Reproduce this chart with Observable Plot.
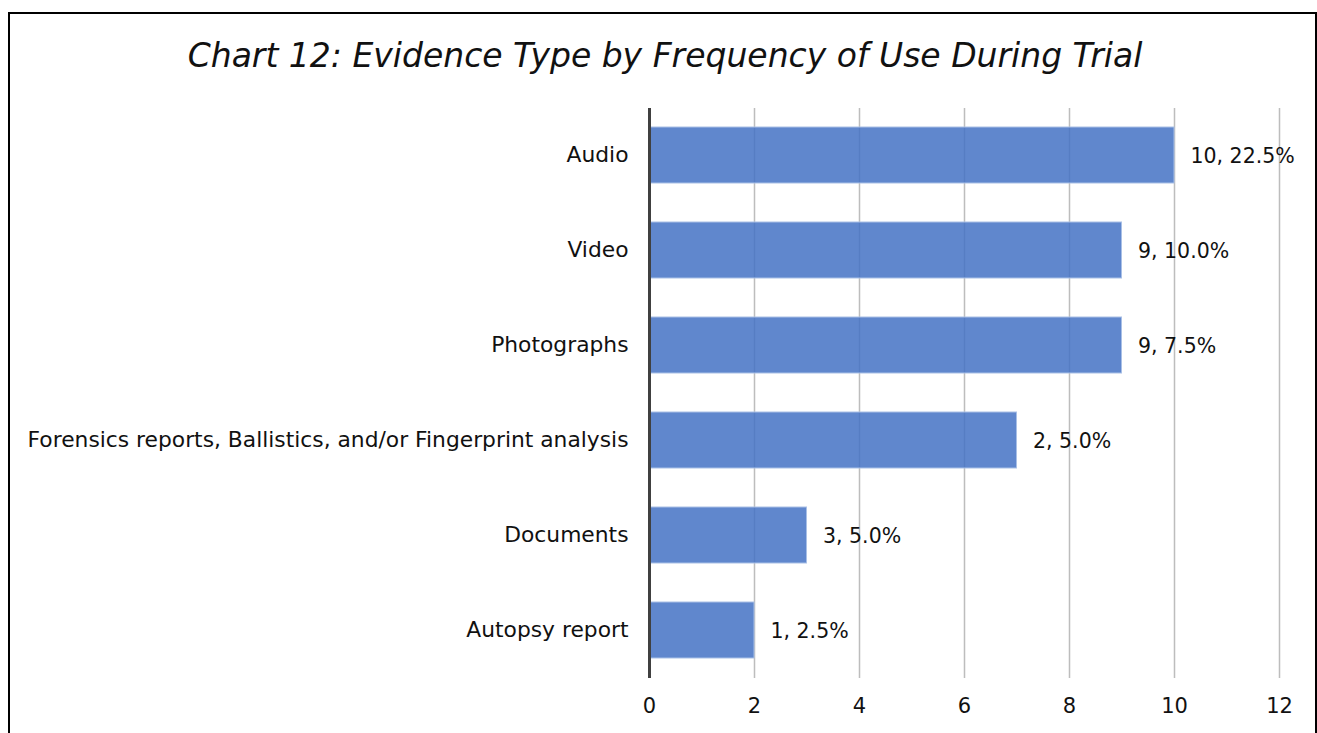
<!DOCTYPE html>
<html>
<head>
<meta charset="utf-8">
<script src="https://cdn.jsdelivr.net/npm/d3@7"></script>
<script src="https://cdn.jsdelivr.net/npm/@observablehq/plot@0.6"></script>
<style>
  html, body { margin: 0; padding: 0; background: #fff; }
  #wrap { position: relative; width: 1317px; height: 733px; overflow: hidden; font-family: "DejaVu Sans", sans-serif; }
  #frame { position: absolute; left: 8px; top: 12px; width: 1309px; height: 760px; border: 2px solid #000; box-sizing: border-box; }
  #title { position: absolute; left: 0; top: 36px; width: 1330px; text-align: center; font-style: italic; font-size: 33px; color: #111; }
  #chart { position: absolute; left: 0; top: 0; }
</style>
</head>
<body>
<div id="wrap">
  <div id="frame"></div>
  <div id="chart"></div>
  <div id="title">Chart 12: Evidence Type by Frequency of Use During Trial</div>
</div>
<script>
const categories = ["Audio", "Video", "Photographs", "Forensics reports, Ballistics, and/or Fingerprint analysis", "Documents", "Autopsy report"];
const barValues = [10, 9, 9, 7, 3, 2];
const labelCounts = [10, 9, 9, 2, 3, 1];
const labelPercents = ["22.5%", "10.0%", "7.5%", "5.0%", "5.0%", "2.5%"];
const xTicks = [0, 2, 4, 6, 8, 10, 12];

const data = categories.map((c, i) => ({
  category: c,
  value: barValues[i],
  label: `${labelCounts[i]}, ${labelPercents[i]}`
}));

const chart = Plot.plot({
  width: 1317,
  height: 733,
  marginLeft: 649,
  marginRight: 38,
  marginTop: 108,
  marginBottom: 55,
  style: { fontFamily: "'DejaVu Sans', sans-serif", fontSize: "20px", color: "#111", background: "transparent" },
  x: { domain: [0, 12], ticks: xTicks, label: null },
  y: { domain: categories, paddingInner: 0.41, paddingOuter: 0.205, label: null },
  marks: [
    Plot.ruleX(xTicks.filter(d => d > 0), { stroke: "#bdbdbd", strokeWidth: 1.5 }),
    Plot.barX(data, { y: "category", x: "value", fill: "#4472C4", fillOpacity: 0.85, stroke: "#a9c0e6", strokeWidth: 1 }),
    Plot.ruleX([0], { stroke: "#404040", strokeWidth: 3 }),
    Plot.text(data, { y: "category", x: "value", text: "label", textAnchor: "start", dx: 16, dy: 1, fontSize: 20.5, fill: "#111" }),
    Plot.axisX({ ticks: xTicks, tickSize: 0, tickPadding: 20, fontSize: 21, label: null }),
    Plot.axisY({ tickSize: 0, tickPadding: 21, fontSize: 21.8, label: null })
  ]
});
document.getElementById("chart").appendChild(chart);
</script>
</body>
</html>
